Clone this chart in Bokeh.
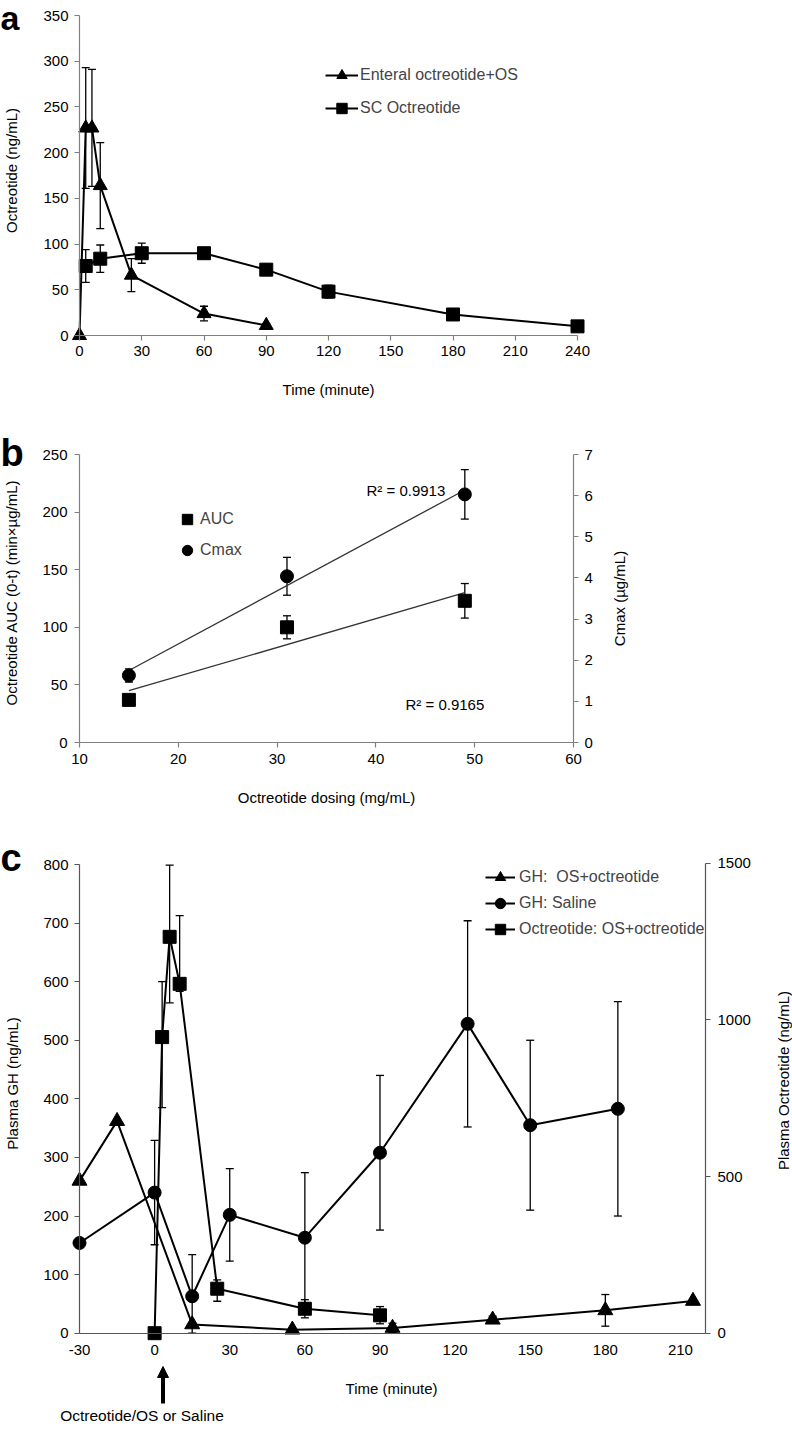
import numpy as np
from bokeh.plotting import figure
from bokeh.layouts import column
from bokeh.models import (Range1d, LinearAxis, FixedTicker, Whisker, TeeHead, Legend,
                          LegendItem, Label, Arrow, NormalHead, ColumnDataSource)
from bokeh.embed import file_html
from bokeh.resources import INLINE

# ---------------- data ----------------
# panel a
a_ent_t = [0, 3, 6, 10, 25, 60, 90]
a_ent_y = [0, 227, 227, 164, 66, 24, 11]
a_ent_err = [0, 66, 64, 47, 18, 8, 2]
a_sc_t = [3, 10, 30, 60, 90, 120, 180, 240]
a_sc_y = [76, 84, 90, 90, 72, 48, 23, 10]
a_sc_err = [18, 15, 11, 6, 6, 7, 3, 2]
a_xticks = [0, 30, 60, 90, 120, 150, 180, 210, 240]
a_yticks = [0, 50, 100, 150, 200, 250, 300, 350]

# panel b
b_dose = [15, 31, 49]
b_auc = [37, 100, 123]
b_auc_err = [0, 10, 15]
b_cmax = [1.63, 4.04, 6.03]
b_cmax_err = [0.16, 0.46, 0.6]
b_r2_cmax = "R\u00b2 = 0.9913"
b_r2_auc = "R\u00b2 = 0.9165"
b_xticks = [10, 20, 30, 40, 50, 60]
b_yticks = [0, 50, 100, 150, 200, 250]
b_y2ticks = [0, 1, 2, 3, 4, 5, 6, 7]

# panel c
c_gh_os_t = [-30, -15, 15, 55, 95, 135, 180, 215]
c_gh_os_y = [260, 362, 15, 6, 9, 23, 39, 55]
c_gh_os_err = [0, 0, 0, 0, 8, 6, 27, 0]
c_gh_sal_t = [-30, 0, 15, 30, 60, 90, 125, 150, 185]
c_gh_sal_y = [154, 240, 63, 202, 163, 308, 528, 355, 383]
c_gh_sal_err = [0, 89, 71, 79, 111, 132, 176, 145, 183]
c_oct_t = [0, 3, 6, 10, 25, 60, 90]
c_oct_y = [0, 945, 1265, 1115, 142, 78, 57]
c_oct_hi = [0, 1122, 1494, 1333, 170, 107, 85]
c_oct_lo = [0, 720, 1054, 1091, 102, 49, 30]
c_xticks = [-30, 0, 30, 60, 90, 120, 150, 180, 210]
c_yticks = [0, 100, 200, 300, 400, 500, 600, 700, 800]
c_y2ticks = [0, 500, 1000, 1500]

FONT = "Liberation Sans"
FS = "15px"
LFS = "16px"
W = 792


def mapper(v0, p0, v1, p1):
    k = (v1 - v0) / (p1 - p0)
    return lambda p: v0 + (p - p0) * k


def make_fig(height, xr, yr):
    p = figure(width=W, height=height, x_range=xr, y_range=yr,
               output_backend="svg", toolbar_location=None,
               min_border_left=0, min_border_right=0,
               min_border_top=0, min_border_bottom=0)
    p.grid.visible = False
    p.outline_line_color = None
    p.background_fill_color = "white"
    p.border_fill_color = "white"
    return p


def style_axis(ax, color, ticks, tick_out=5, standoff=5):
    ax.ticker = FixedTicker(ticks=ticks)
    ax.major_label_overrides = {t: str(t) for t in ticks}
    ax.axis_line_color = color
    ax.axis_line_width = 1.2
    ax.major_tick_line_color = color
    ax.major_tick_line_width = 1.2
    ax.major_tick_out = tick_out
    ax.major_tick_in = 0
    ax.minor_tick_line_color = None
    ax.major_label_text_font = FONT
    ax.major_label_text_font_size = FS
    ax.major_label_text_color = "black"
    ax.major_label_standoff = standoff


def label(p, x, y, text, size=FS, angle=0, align="center", baseline="middle", bold=False):
    p.add_layout(Label(x=x, y=y, text=text, text_font=FONT, text_font_size=size,
                       angle=angle, angle_units="deg", text_align=align,
                       text_baseline=baseline, text_color="black",
                       text_font_style="bold" if bold else "normal"))


def whisker(p, x, lo, hi, y_range_name="default"):
    src = ColumnDataSource(dict(base=list(x), lower=list(lo), upper=list(hi)))
    w = Whisker(source=src, base="base", lower="lower", upper="upper", dimension="height",
                line_color="black", line_width=1.3,
                upper_head=TeeHead(size=8, line_color="black", line_width=1.3),
                lower_head=TeeHead(size=8, line_color="black", line_width=1.3),
                y_range_name=y_range_name)
    p.add_layout(w)


def legend(p, items, loc, glyph_width, spacing, standoff):
    lg = Legend(items=items, location=loc, glyph_width=glyph_width, glyph_height=26,
                label_height=26, spacing=spacing, padding=0, margin=0,
                border_line_alpha=0, background_fill_alpha=0,
                label_text_font=FONT, label_text_font_size=LFS,
                label_text_baseline="middle", label_standoff=standoff)
    p.add_layout(lg)


# ================= panel a (page y 0 .. 410) =================
A_TOP, A_BOT = 0, 410
XA = mapper(0, 79, 240, 577)
YA = mapper(0, 335, 350, 15)
pa = make_fig(A_BOT - A_TOP, Range1d(XA(0), XA(W)), Range1d(YA(A_BOT), YA(A_TOP)))
style_axis(pa.xaxis[0], "#808080", a_xticks, 5, 5)
style_axis(pa.yaxis[0], "#808080", a_yticks, 5, 6)
pa.xaxis.fixed_location = 0
pa.yaxis.fixed_location = 0
pa.xaxis.bounds = (0, 240)
pa.yaxis.bounds = (0, 350)

whisker(pa, a_ent_t, np.array(a_ent_y) - np.array(a_ent_err), np.array(a_ent_y) + np.array(a_ent_err))
whisker(pa, a_sc_t, np.array(a_sc_y) - np.array(a_sc_err), np.array(a_sc_y) + np.array(a_sc_err))
l1 = pa.line(a_ent_t, a_ent_y, line_color="black", line_width=2)
s1 = pa.scatter(a_ent_t, a_ent_y, marker="triangle", size=14, color="black")
l2 = pa.line(a_sc_t, a_sc_y, line_color="black", line_width=2)
s2 = pa.scatter(a_sc_t, a_sc_y, marker="square", size=13, color="black")
legend(pa, [LegendItem(label="Enteral octreotide+OS", renderers=[l1, s1]),
            LegendItem(label="SC Octreotide", renderers=[l2, s2])],
       (325, A_BOT - 121), 33, 7, 2)
label(pa, XA(11), YA(170), "Octreotide (ng/mL)", angle=90)
label(pa, XA(328), YA(389), "Time (minute)")
label(pa, XA(0), YA(17), "a", size="34px", align="left", bold=True)

# ================= panel b (page y 410 .. 808) =================
B_TOP, B_BOT = 410, 808
XB = mapper(10, 79, 60, 573)
YB = mapper(0, 742, 250, 454)
YB2 = mapper(0, 742, 7, 454)
pb = make_fig(B_BOT - B_TOP, Range1d(XB(0), XB(W)), Range1d(YB(B_BOT), YB(B_TOP)))
pb.extra_y_ranges = {"cmax": Range1d(YB2(B_BOT), YB2(B_TOP))}
style_axis(pb.xaxis[0], "#808080", b_xticks, 5, 6)
style_axis(pb.yaxis[0], "#808080", b_yticks, 5, 7)
pb.xaxis.fixed_location = 0
pb.yaxis.fixed_location = 10
pb.xaxis.bounds = (10, 60)
pb.yaxis.bounds = (0, 250)
rb = LinearAxis(y_range_name="cmax", fixed_location=60, bounds=(0, 7))
style_axis(rb, "#808080", b_y2ticks, 5, 6)
pb.add_layout(rb, "right")

whisker(pb, b_dose, np.array(b_auc) - np.array(b_auc_err), np.array(b_auc) + np.array(b_auc_err))
whisker(pb, b_dose, np.array(b_cmax) - np.array(b_cmax_err), np.array(b_cmax) + np.array(b_cmax_err), "cmax")
xs = np.array([min(b_dose), max(b_dose)])
k1, c1 = np.polyfit(b_dose, b_auc, 1)
k2, c2 = np.polyfit(b_dose, b_cmax, 1)
pb.line(xs, k1 * xs + c1, line_color="#333333", line_width=1.3)
pb.line(xs, k2 * xs + c2, line_color="#333333", line_width=1.3, y_range_name="cmax")
sb1 = pb.scatter(b_dose, b_auc, marker="square", size=13, color="black")
sb2 = pb.scatter(b_dose, b_cmax, marker="circle", size=13, color="black", y_range_name="cmax")
legend(pb, [LegendItem(label="AUC", renderers=[sb1]),
            LegendItem(label="Cmax", renderers=[sb2])],
       (174, B_BOT - 563), 26, 5, 0)
label(pb, XB(366), YB(490), b_r2_cmax, align="left")
label(pb, XB(405), YB(704), b_r2_auc, align="left")
label(pb, XB(11), YB(592), "Octreotide AUC (0-t) (min\u00d7\u00b5g/mL)", angle=90)
label(pb, XB(619), YB(598), "Cmax (\u00b5g/mL)", angle=90)
label(pb, XB(326), YB(797), "Octreotide dosing (mg/mL)")
label(pb, XB(0), YB(452), "b", size="38px", align="left", bold=True)

# ================= panel c (page y 808 .. 1428) =================
C_TOP, C_BOT = 808, 1428
XC = mapper(-30, 79, 220, 705)
YC = mapper(0, 1332.7, 800, 864)
YC2 = mapper(0, 1332.7, 1500, 862.7)
pc = make_fig(C_BOT - C_TOP, Range1d(XC(0), XC(W)), Range1d(YC(C_BOT), YC(C_TOP)))
pc.extra_y_ranges = {"oct": Range1d(YC2(C_BOT), YC2(C_TOP))}
style_axis(pc.xaxis[0], "#555555", c_xticks, 0, 12)
style_axis(pc.yaxis[0], "#555555", c_yticks, 5, 6)
pc.xaxis.fixed_location = 0
pc.yaxis.fixed_location = -30
pc.xaxis.bounds = (-30, 220)
pc.yaxis.bounds = (0, 800)
rc = LinearAxis(y_range_name="oct", fixed_location=220, bounds=(0, 1500))
style_axis(rc, "#555555", c_y2ticks, 5, 7)
pc.add_layout(rc, "right")

gy = np.array(c_gh_os_y); ge = np.array(c_gh_os_err)
whisker(pc, c_gh_os_t, np.maximum(gy - ge, 0), gy + ge)
sy = np.array(c_gh_sal_y); se = np.array(c_gh_sal_err)
whisker(pc, c_gh_sal_t, np.maximum(sy - se, 0), sy + se)
whisker(pc, c_oct_t, c_oct_lo, c_oct_hi, "oct")
lc1 = pc.line(c_gh_os_t, c_gh_os_y, line_color="black", line_width=2)
sc1 = pc.scatter(c_gh_os_t, c_gh_os_y, marker="triangle", size=15, color="black")
lc2 = pc.line(c_gh_sal_t, c_gh_sal_y, line_color="black", line_width=2)
sc2 = pc.scatter(c_gh_sal_t, c_gh_sal_y, marker="circle", size=13, color="black")
lc3 = pc.line(c_oct_t, c_oct_y, line_color="black", line_width=2, y_range_name="oct")
sc3 = pc.scatter(c_oct_t, c_oct_y, marker="square", size=13, color="black", y_range_name="oct")
legend(pc, [LegendItem(label="GH:  OS+octreotide", renderers=[lc1, sc1]),
            LegendItem(label="GH: Saline", renderers=[lc2, sc2]),
            LegendItem(label="Octreotide: OS+octreotide", renderers=[lc3, sc3])],
       (485, C_BOT - 942), 30, 0, 4)
label(pc, XC(12), YC(1083), "Plasma GH (ng/mL)", angle=90)
label(pc, XC(783), YC(1080), "Plasma Octreotide (ng/mL)", angle=90)
label(pc, XC(391), YC(1388), "Time (minute)")
label(pc, XC(141.5), YC(1415), "Octreotide/OS or Saline", size="15.5px")
label(pc, XC(0), YC(857), "c", size="38px", align="left", bold=True)
pc.add_layout(Arrow(end=NormalHead(size=11, fill_color="black", line_color="black", line_width=1),
                    x_start=XC(162.5), y_start=YC(1403), x_end=XC(162.5), y_end=YC(1366),
                    line_color="black", line_width=4))

layout = column(pa, pb, pc)
open("out.html", "w").write(file_html(layout, INLINE))
